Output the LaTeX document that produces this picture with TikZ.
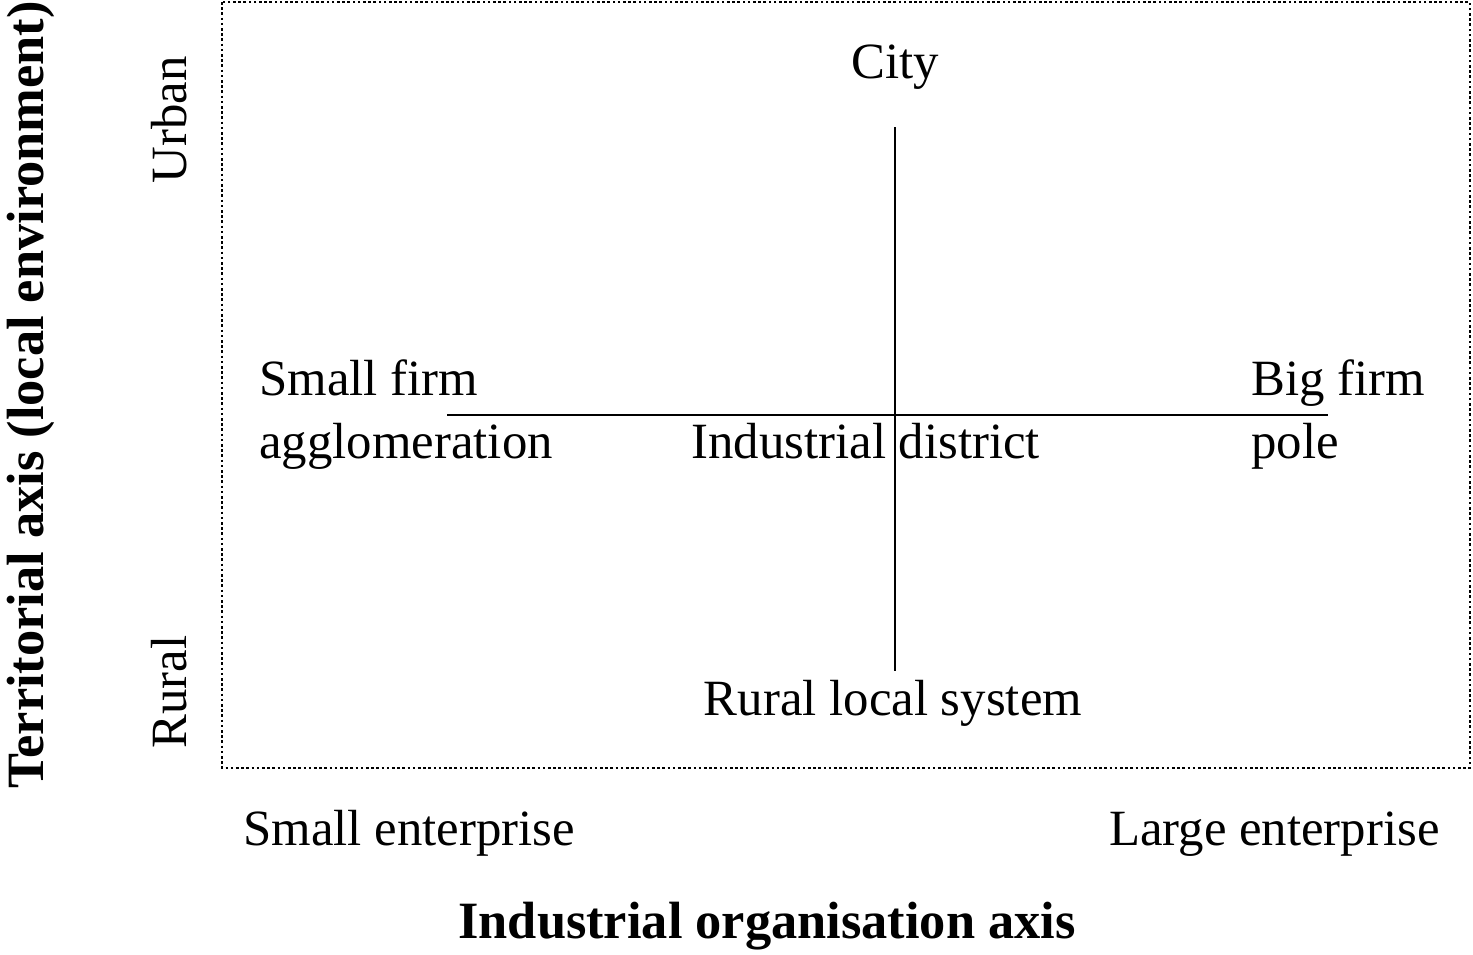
\documentclass[tikz,border=0pt]{standalone}
\usepackage{fontspec}
\setmainfont{Liberation Serif}
\begin{document}
\begin{tikzpicture}[x=0.5pt,y=-0.5pt,
  lbl/.style={inner sep=0pt,font=\fontsize{25.4}{30}\selectfont},
  ttl/.style={inner sep=0pt,font=\fontsize{26.2}{31}\selectfont\bfseries},
  axisline/.style={line width=0.7pt},
  frame/.style={line width=1.3pt,dash pattern=on 1.3pt off 1.3pt}]
\useasboundingbox (0,0) rectangle (1473,954);
\draw[frame] (222,2) rectangle (1470,768);
\coordinate (vt) at (895,127);
\coordinate (vb) at (895,671);
\coordinate (hl) at (447,415);
\coordinate (hr) at (1328,415);
\draw[axisline] (vt) -- (vb);
\draw[axisline] (hl) -- (hr);
\node[lbl,anchor=base] (city) at (895,78) {City};
\node[lbl,anchor=base west] (sf) at (259,395) {Small firm};
\node[lbl,anchor=base west] (agg) at (259,458) {agglomeration};
\node[lbl,anchor=base west] (ind) at (691,458) {Industrial district};
\node[lbl,anchor=base west] (bf) at (1251,395) {Big firm};
\node[lbl,anchor=base west] (pole) at (1251,458) {pole};
\node[lbl,anchor=base] (rls) at (893,715) {Rural local system};
\node[lbl,anchor=base west] (se) at (243,845) {Small enterprise};
\node[lbl,anchor=base east] (le) at (1440,845) {Large enterprise};
\node[ttl,anchor=base] (xax) at (767,938) {Industrial organisation axis};
\node[lbl,anchor=base,rotate=90] (urb) at (186,120) {Urban};
\node[lbl,anchor=base,rotate=90] (rur) at (186,692) {Rural};
\node[ttl,anchor=base,rotate=90] (yax) at (43,395) {Territorial axis (local environment)};
\end{tikzpicture}
\end{document}
